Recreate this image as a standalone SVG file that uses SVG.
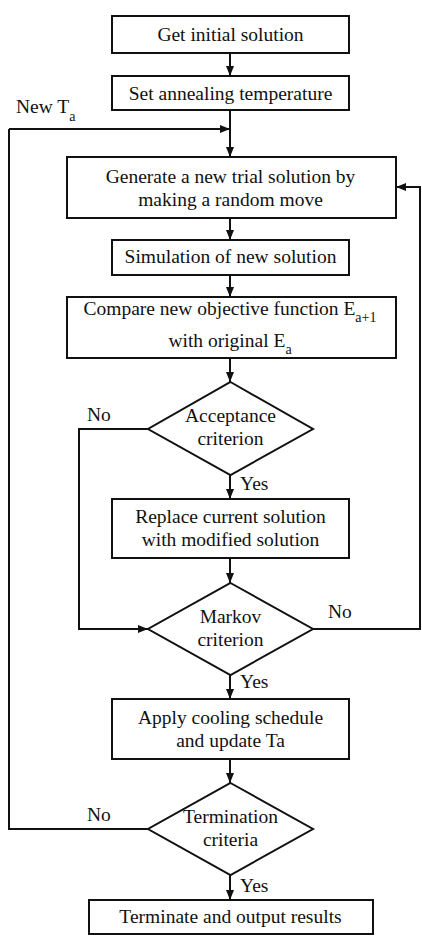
<svg xmlns="http://www.w3.org/2000/svg" width="422" height="936" viewBox="0 0 422 936">
<defs>
<marker id="ah" markerUnits="userSpaceOnUse" markerWidth="10" markerHeight="8" refX="10" refY="4" orient="auto">
<path d="M0,0 L10,4 L0,8 z" fill="#111"/>
</marker>
<style>
.box{fill:#fff;stroke:#111;stroke-width:2}
.t{font-size:19.5px;fill:#111;text-anchor:middle}
.l{font-size:19.5px;fill:#111}
.sub{font-size:14px}
.c{fill:none;stroke:#111;stroke-width:2}
.a{marker-end:url(#ah)}
text{font-family:'Liberation Serif','DejaVu Serif','Times New Roman',Times,serif}
</style>
</defs>
<rect width="422" height="936" fill="#fff"/>
<g id="connectors">
<path class="c" d="M148,829 H9 V129"/>
<path class="c a" d="M230,53 V76"/>
<path class="c a" d="M230,110 V157"/>
<path class="c a" d="M9,129 H230"/>
<path class="c a" d="M230,218 V240"/>
<path class="c a" d="M230,275 V297"/>
<path class="c a" d="M230,358 V382"/>
<path class="c a" d="M230,475 V499"/>
<path class="c a" d="M230,558 V583"/>
<path class="c a" d="M148,429 H79 V629 H148"/>
<path class="c a" d="M313,629 H420 V187 H396"/>
<path class="c a" d="M230,675 V699"/>
<path class="c a" d="M230,759 V783"/>
<path class="c a" d="M230,875 V900"/>
<text class="l" x="16" y="113">New T<tspan class="sub" dy="8">a</tspan></text>
<text class="l" x="87" y="421">No</text>
<text class="l" x="240" y="490">Yes</text>
<text class="l" x="328" y="618">No</text>
<text class="l" x="240" y="688">Yes</text>
<text class="l" x="87" y="821">No</text>
<text class="l" x="240" y="892">Yes</text>
</g>
<g id="n1"><rect class="box" x="112" y="16" width="237" height="37"/><text class="t" x="230.5" y="41">Get initial solution</text></g>
<g id="n2"><rect class="box" x="112" y="76" width="237" height="34"/><text class="t" x="230.5" y="100">Set annealing temperature</text></g>
<g id="n3"><rect class="box" x="67" y="157" width="329" height="61"/><text class="t" x="230.5" y="183">Generate a new trial solution by</text><text class="t" x="230.5" y="206">making a random move</text></g>
<g id="n4"><rect class="box" x="112" y="240" width="237" height="35"/><text class="t" x="230.5" y="263">Simulation of new solution</text></g>
<g id="n5"><rect class="box" x="67" y="297" width="329" height="61"/><text class="t" x="230" y="315">Compare new objective function E<tspan class="sub" dy="7">a+1</tspan></text><text class="t" x="230" y="347">with original E<tspan class="sub" dy="7">a</tspan></text></g>
<g id="n6"><path class="box" d="M230.5,382 L313,429 L230.5,475 L148,429 Z"/><text class="t" x="230.5" y="422">Acceptance</text><text class="t" x="230.5" y="445">criterion</text></g>
<g id="n7"><rect class="box" x="112" y="499" width="237" height="59"/><text class="t" x="230.5" y="523">Replace current solution</text><text class="t" x="230.5" y="546">with modified solution</text></g>
<g id="n8"><path class="box" d="M230.5,583 L313,629 L230.5,675 L148,629 Z"/><text class="t" x="230.5" y="623">Markov</text><text class="t" x="230.5" y="646">criterion</text></g>
<g id="n9"><rect class="box" x="112" y="699" width="237" height="60"/><text class="t" x="230.5" y="724">Apply cooling schedule</text><text class="t" x="230.5" y="747">and update Ta</text></g>
<g id="n10"><path class="box" d="M230.5,783 L313,829 L230.5,875 L148,829 Z"/><text class="t" x="230.5" y="823">Termination</text><text class="t" x="230.5" y="846">criteria</text></g>
<g id="n11"><rect class="box" x="89" y="900" width="284" height="34"/><text class="t" x="230.5" y="923">Terminate and output results</text></g>
</svg>
